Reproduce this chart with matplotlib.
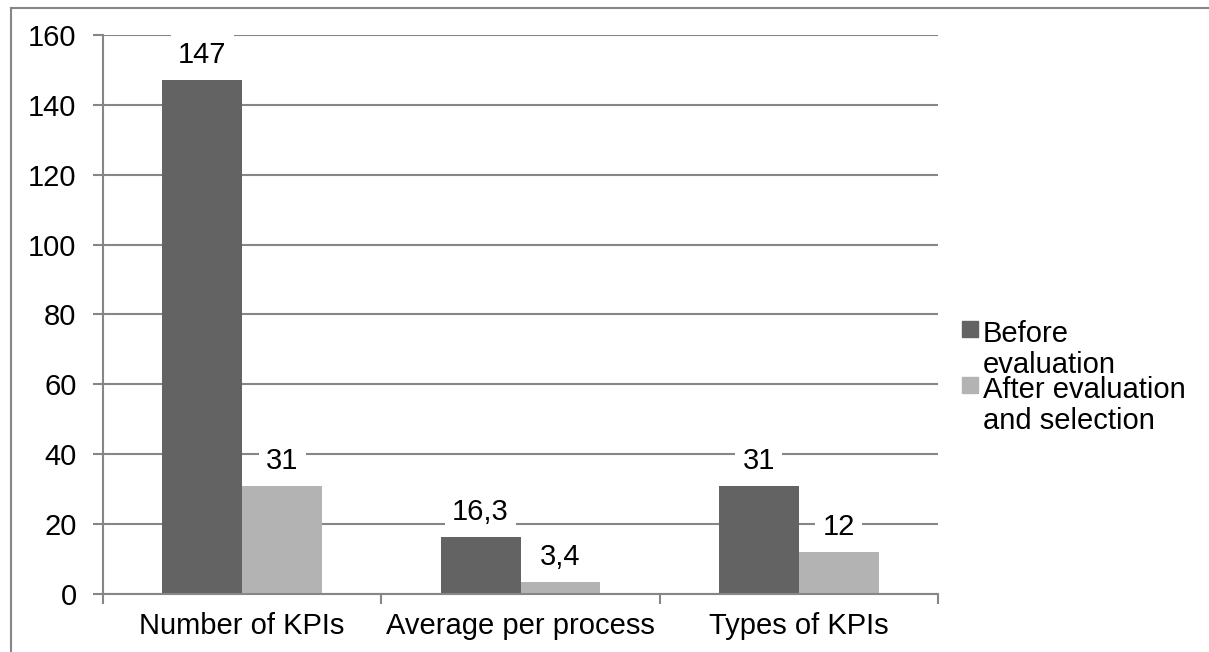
import numpy as np
import matplotlib
matplotlib.use('Agg')
from matplotlib import pyplot as plt
from matplotlib.patches import Rectangle
from matplotlib.lines import Line2D

categories = ['Number of KPIs', 'Average per process', 'Types of KPIs']
series_names = ['Before\nevaluation', 'After evaluation\nand selection']
before = [147, 16.3, 31]
after = [31, 3.4, 12]
colors = ['#636363', '#b3b3b3']
yticks = [0, 20, 40, 60, 80, 100, 120, 140, 160]

plt.rcParams['font.family'] = ['Liberation Sans', 'DejaVu Sans']
gray = '#868686'
fs = 21

fig = plt.figure(figsize=(12.09, 6.52), dpi=100)
ax = fig.add_axes([103 / 1209, 1 - 594 / 652, 835 / 1209, 559 / 652])

x = np.arange(len(categories))
w = 0.287
for i, (vals, c) in enumerate(zip([before, after], colors)):
    pos = x + (i - 0.5) * w
    ax.bar(pos, vals, width=w, color=c, zorder=2)
    for p, v in zip(pos, vals):
        txt = str(v).replace('.', ',')
        ax.annotate(txt, (p, v), xytext=(0, 8), textcoords='offset points',
                    ha='center', va='bottom', fontsize=fs, zorder=4,
                    bbox=dict(boxstyle='square,pad=0.25', fc='white', ec='none'))

ax.set_xlim(-0.5, len(categories) - 0.5)
ax.set_ylim(0, 160)
ax.set_yticks(yticks)
ax.yaxis.grid(True, color=gray, lw=1.5, zorder=0)
ax.set_axisbelow(True)

ax.set_xticks(x)
ax.set_xticklabels(categories, fontsize=fs)
ax.set_xticks(np.arange(len(categories) + 1) - 0.5, minor=True)
ax.tick_params(axis='x', which='major', length=0, pad=13)
ax.tick_params(axis='x', which='minor', length=7, width=1.5, color=gray)
ax.tick_params(axis='y', labelsize=fs, length=7, width=1.5, color=gray, pad=12)

for s in ['top', 'right']:
    ax.spines[s].set_visible(False)
for s in ['left', 'bottom']:
    ax.spines[s].set_color(gray)
    ax.spines[s].set_linewidth(1.5)

# legend drawn by hand so the square sits on the first line
leg_y = [333, 389]
for name, c, yy in zip(series_names, colors, leg_y):
    fig.add_artist(Rectangle((962 / 1209, 1 - (yy + 4) / 652), 16 / 1209, 16 / 652,
                             transform=fig.transFigure, color=c))
    fig.text(983 / 1209, 1 - (yy - 13) / 652, name, fontsize=fs, va='top',
             ha='left', linespacing=1.15)

# outer frame
fig.add_artist(Line2D([11 / 1209, 1], [1 - 8 / 652] * 2, color=gray, lw=1.5,
                      transform=fig.transFigure))
fig.add_artist(Line2D([11 / 1209] * 2, [0, 1 - 8 / 652], color=gray, lw=1.5,
                      transform=fig.transFigure))

fig.savefig('out.png', dpi=100)
